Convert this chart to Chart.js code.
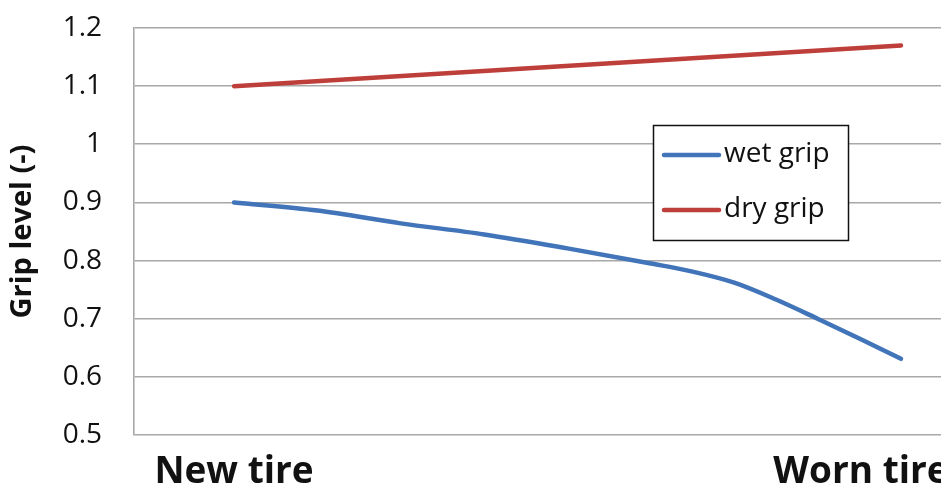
<!DOCTYPE html>
<html>
<head>
<meta charset="utf-8">
<script src="https://cdn.jsdelivr.net/npm/chart.js@4/dist/chart.umd.min.js"></script>
<style>
  html, body { margin: 0; padding: 0; background: #ffffff; }
  #chart { display: block; }
</style>
</head>
<body>
<canvas id="chart" width="941" height="487"></canvas>
<script>
// Tire wear state, from new (0) to worn (1)
const xLabels = ['New tire', 'Worn tire'];
const wetWear = [0, 0.125, 0.25, 0.375, 0.5, 0.625, 0.6875, 0.75, 0.8125, 0.875, 0.9375, 1];
const wetGrip = [0.900, 0.886, 0.864, 0.845, 0.821, 0.795, 0.781, 0.762, 0.733, 0.700, 0.666, 0.631];
const dryWear = [0, 1];
const dryGrip = [1.10, 1.17];
const yTicks = [0.5, 0.6, 0.7, 0.8, 0.9, 1, 1.1, 1.2];
const seriesNames = ['wet grip', 'dry grip'];

const BLUE = '#4174B9';
const RED = '#BE3E3A';
const GRID = '#a8a8a8';
const FONT = '"Open Sans", "Liberation Sans", sans-serif';

const toPoints = (xs, ys) => xs.map((x, i) => ({ x: x, y: ys[i] }));

// Boxed legend drawn inside the plot area, right of centre
const boxedLegend = {
  id: 'boxedLegend',
  afterDraw(chart) {
    const ctx = chart.ctx;
    const box = { x: 653.5, y: 125.5, w: 195, h: 115 };
    ctx.save();
    ctx.fillStyle = '#ffffff';
    ctx.fillRect(box.x, box.y, box.w, box.h);
    ctx.strokeStyle = '#111111';
    ctx.lineWidth = 1.5;
    ctx.strokeRect(box.x, box.y, box.w, box.h);
    const rows = [155, 210];
    chart.data.datasets.forEach((ds, i) => {
      const y = rows[i];
      ctx.strokeStyle = ds.borderColor;
      ctx.lineWidth = 4.5;
      ctx.lineCap = 'round';
      ctx.beginPath();
      ctx.moveTo(664, y);
      ctx.lineTo(719, y);
      ctx.stroke();
      ctx.fillStyle = '#111111';
      ctx.font = '28px ' + FONT;
      ctx.textAlign = 'left';
      ctx.textBaseline = 'middle';
      ctx.fillText(ds.label, 724, y - 1);
    });
    ctx.restore();
  }
};

new Chart(document.getElementById('chart'), {
  type: 'line',
  data: {
    datasets: [
      {
        label: seriesNames[0],
        data: toPoints(wetWear, wetGrip),
        borderColor: BLUE,
        borderWidth: 4.5,
        cubicInterpolationMode: 'monotone',
        pointRadius: 0,
        borderCapStyle: 'round',
        fill: false
      },
      {
        label: seriesNames[1],
        data: toPoints(dryWear, dryGrip),
        borderColor: RED,
        borderWidth: 4.5,
        pointRadius: 0,
        borderCapStyle: 'round',
        fill: false
      }
    ]
  },
  options: {
    responsive: false,
    animation: false,
    devicePixelRatio: 1,
    layout: { padding: { top: 28, right: 0, bottom: 0, left: 0 } },
    plugins: {
      legend: { display: false },
      tooltip: { enabled: false }
    },
    scales: {
      x: {
        type: 'linear',
        min: -0.15,
        max: 1.06,
        grid: { display: false, drawTicks: false },
        border: { display: false },
        afterBuildTicks(scale) {
          scale.ticks = [0, 0.94].map(v => ({ value: v }));
        },
        afterFit(scale) {
          scale.height = 52;
          scale.paddingLeft = 0;
          scale.paddingRight = 0;
        },
        ticks: {
          autoSkip: false,
          maxRotation: 0,
          padding: 15,
          color: '#111111',
          font: { family: FONT, size: 37, weight: 'bold' },
          callback: (value, index) => xLabels[index]
        }
      },
      y: {
        min: 0.5,
        max: 1.2,
        afterBuildTicks(scale) {
          scale.ticks = yTicks.map(v => ({ value: v }));
        },
        afterFit(scale) {
          scale.width = 134;
          scale.paddingTop = 0;
          scale.paddingBottom = 0;
        },
        grid: { color: GRID, lineWidth: 1.6, drawTicks: false },
        border: { display: true, color: GRID, width: 1.6 },
        ticks: {
          padding: 32,
          color: '#111111',
          font: { family: FONT, size: 28 },
          callback: (value) => String(Math.round(value * 10) / 10)
        },
        title: {
          display: true,
          text: 'Grip level (-)',
          color: '#111111',
          font: { family: FONT, size: 29, weight: 'bold' },
          padding: { top: 5, bottom: 0 }
        }
      }
    }
  },
  plugins: [boxedLegend]
});
</script>
</body>
</html>
